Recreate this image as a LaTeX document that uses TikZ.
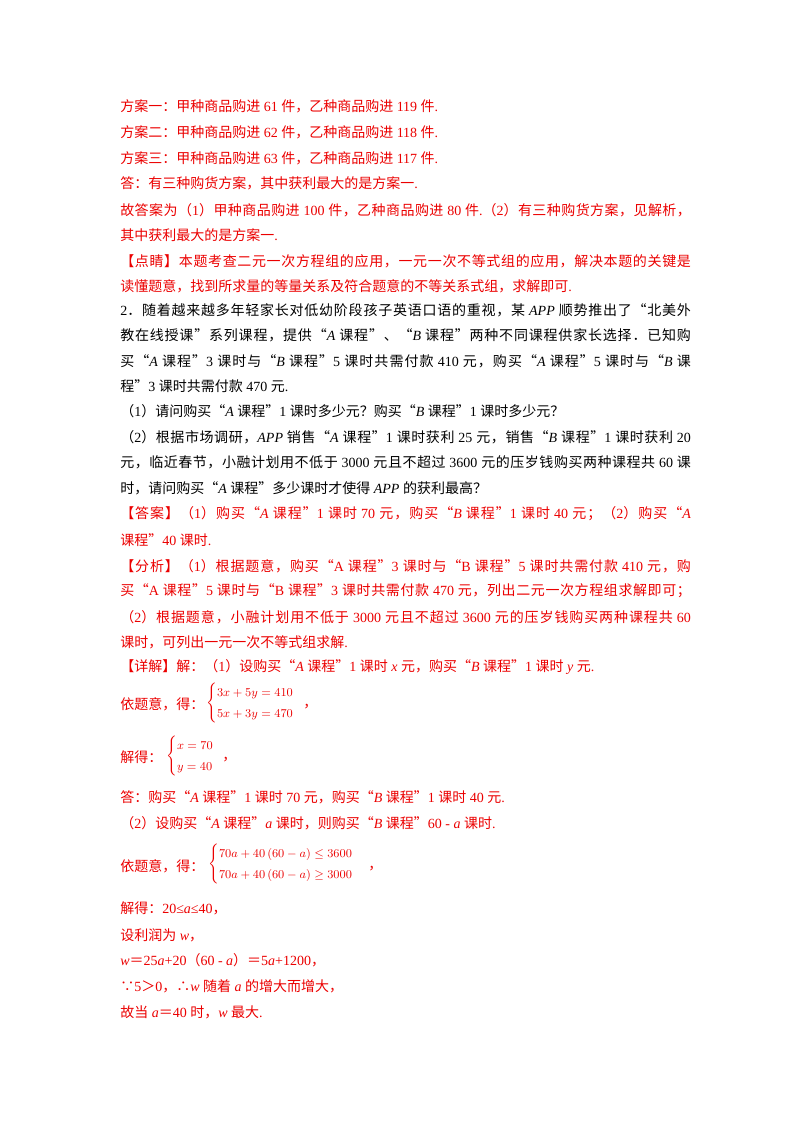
\documentclass[tikz,border=0pt]{standalone}
\usepackage{fontspec}
\setmainfont{Liberation Serif}
\newfontfamily\cjk{Noto Sans CJK SC}
\XeTeXinterchartokenstate=1
\newXeTeXintercharclass\CJKcls
\count255="3000
\loop\XeTeXcharclass\count255=\CJKcls\ifnum\count255<"9FFF\advance\count255 1\repeat
\count255="FF00
\loop\XeTeXcharclass\count255=\CJKcls\ifnum\count255<"FFEF\advance\count255 1\repeat
\XeTeXcharclass"201C=\CJKcls
\XeTeXcharclass"201D=\CJKcls
\XeTeXcharclass"2235=\CJKcls
\XeTeXcharclass"2234=\CJKcls
\XeTeXinterchartoks 0 \CJKcls={\cjk}
\XeTeXinterchartoks 4095 \CJKcls={\cjk}
\XeTeXinterchartoks \CJKcls 0={\rmfamily}
\XeTeXinterchartoks \CJKcls 4095={\rmfamily}
\XeTeXinterchartoks \CJKcls \CJKcls={\hskip0pt plus 2pt}
\definecolor{ans}{RGB}{235,0,0}
\tikzset{
 ln/.style={anchor=west,inner sep=0pt,font=\fontsize{10.5pt}{12pt}\selectfont},
 eq/.style={anchor=west,inner sep=0pt,text=ans,font=\fontsize{9.5pt}{11pt}\selectfont,execute at begin node={\renewcommand\arraystretch{1.45}}},
 full/.style={ln,text width=428pt,align=justify,execute at begin node={\parfillskip=0pt}},
 r/.style={text=ans},
 k/.style={text=black}
}
\begin{document}
\begin{tikzpicture}[x=0.75pt,y=0.75pt]
\useasboundingbox (0,0) rectangle (800,-1132);
\node[ln,r] (l1) at (120,-106) {方案一：甲种商品购进 61 件，乙种商品购进 119 件.};
\node[ln,r] (l2) at (120,-132) {方案二：甲种商品购进 62 件，乙种商品购进 118 件.};
\node[ln,r] (l3) at (120,-158) {方案三：甲种商品购进 63 件，乙种商品购进 117 件.};
\node[ln,r] (l4) at (120,-183) {答：有三种购货方案，其中获利最大的是方案一.};
\node[full,r] (l5) at (120,-210) {故答案为（1）甲种商品购进 100 件，乙种商品购进 80 件.（2）有三种购货方案，见解析，};
\node[ln,r] (l6) at (120,-235) {其中获利最大的是方案一.};
\node[full,r] (l7) at (120,-261) {【点睛】本题考查二元一次方程组的应用，一元一次不等式组的应用，解决本题的关键是};
\node[ln,r] (l8) at (120,-286) {读懂题意，找到所求量的等量关系及符合题意的不等关系式组，求解即可.};
\node[full,k] (l9) at (120,-310) {2．随着越来越多年轻家长对低幼阶段孩子英语口语的重视，某 \textit{APP} 顺势推出了“北美外};
\node[full,k] (l10) at (120,-335) {教在线授课”系列课程，提供“\textit{A} 课程”、“\textit{B} 课程”两种不同课程供家长选择．已知购};
\node[full,k] (l11) at (120,-361) {买“\textit{A} 课程”3 课时与“\textit{B} 课程”5 课时共需付款 410 元，购买“\textit{A} 课程”5 课时与“\textit{B} 课};
\node[ln,k] (l12) at (120,-386) {程”3 课时共需付款 470 元.};
\node[ln,k] (l13) at (120,-411) {（1）请问购买“\textit{A} 课程”1 课时多少元？购买“\textit{B} 课程”1 课时多少元？};
\node[full,k] (l14) at (120,-437) {（2）根据市场调研，\textit{APP} 销售“\textit{A} 课程”1 课时获利 25 元，销售“\textit{B} 课程”1 课时获利 20};
\node[full,k] (l15) at (120,-462) {元，临近春节，小融计划用不低于 3000 元且不超过 3600 元的压岁钱购买两种课程共 60 课};
\node[ln,k] (l16) at (120,-488) {时，请问购买“\textit{A} 课程”多少课时才使得 \textit{APP} 的获利最高？};
\node[full,r] (l17) at (120,-514) {【答案】（1）购买“\textit{A} 课程”1 课时 70 元，购买“\textit{B} 课程”1 课时 40 元；（2）购买“\textit{A}};
\node[ln,r] (l18) at (120,-540) {课程”40 课时.};
\node[full,r] (l19) at (120,-566) {【分析】（1）根据题意，购买“A 课程”3 课时与“B 课程”5 课时共需付款 410 元，购};
\node[full,r] (l20) at (120,-591) {买“A 课程”5 课时与“B 课程”3 课时共需付款 470 元，列出二元一次方程组求解即可；};
\node[full,r] (l21) at (120,-617) {（2）根据题意，小融计划用不低于 3000 元且不超过 3600 元的压岁钱购买两种课程共 60};
\node[ln,r] (l22) at (120,-642) {课时，可列出一元一次不等式组求解.};
\node[ln,r] (l23) at (120,-667) {【详解】解：（1）设购买“\textit{A} 课程”1 课时 \textit{x} 元，购买“\textit{B} 课程”1 课时 \textit{y} 元.};
\node[ln,r] (l24) at (120,-704) {依题意，得：};
\node[eq] (e1) at (206,-703) {$\left\{\begin{array}{@{}l@{}}3x+5y=410\\5x+3y=470\end{array}\right.$};
\node[ln,r] (c1) at (303,-707) {，};
\node[ln,r] (l25) at (120,-757) {解得：};
\node[eq] (e2) at (166,-756) {$\left\{\begin{array}{@{}l@{}}x=70\\y=40\end{array}\right.$};
\node[ln,r] (c2) at (222,-760) {，};
\node[ln,r] (l26) at (120,-797) {答：购买“\textit{A} 课程”1 课时 70 元，购买“\textit{B} 课程”1 课时 40 元.};
\node[ln,r] (l27) at (120,-823) {（2）设购买“\textit{A} 课程”\textit{a} 课时，则购买“\textit{B} 课程”60 - \textit{a} 课时.};
\node[ln,r] (l28) at (120,-866) {依题意，得：};
\node[eq] (e3) at (208,-864) {$\left\{\begin{array}{@{}l@{}}70a+40\left(60-a\right)\le 3600\\70a+40\left(60-a\right)\ge 3000\end{array}\right.$};
\node[ln,r] (c3) at (368,-869) {，};
\node[ln,r] (l29) at (120,-908) {解得：20≤\textit{a}≤40，};
\node[ln,r] (l30) at (120,-935) {设利润为 \textit{w}，};
\node[ln,r] (l31) at (120,-960) {\textit{w}＝25\textit{a}+20（60 - \textit{a}）＝5\textit{a}+1200，};
\node[ln,r] (l32) at (120,-986) {∵5＞0，∴\textit{w} 随着 \textit{a} 的增大而增大，};
\node[ln,r] (l33) at (120,-1012) {故当 \textit{a}＝40 时，\textit{w} 最大.};
\end{tikzpicture}
\end{document}
